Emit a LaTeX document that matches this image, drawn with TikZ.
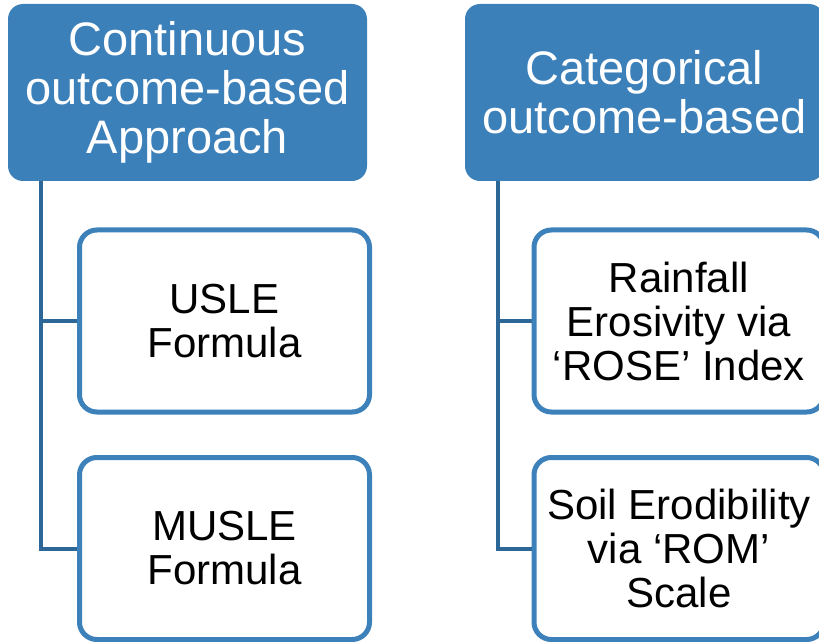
\documentclass[tikz,border=0pt]{standalone}
\usepackage{fontspec}
\setmainfont{Liberation Sans}
\definecolor{headblue}{HTML}{3C80BA}
\definecolor{edgeblue}{HTML}{3D81BB}
\definecolor{linkblue}{HTML}{2D6797}
\begin{document}
\begin{tikzpicture}[x=0.75pt,y=-0.75pt,
  header/.style={rectangle, rounded corners=11.25pt, fill=headblue, text=white,
    minimum width=269.25pt, minimum height=132.75pt, inner sep=0pt, align=center,
    font=\fontsize{35.25pt}{36.5pt}\selectfont},
  leaf/.style={rectangle, rounded corners=13pt, draw=edgeblue, line width=3.75pt,
    fill=white, minimum width=217.5pt, minimum height=136.5pt, inner sep=0pt,
    align=center, font=\fontsize{31.5pt}{33pt}\selectfont},
  link/.style={draw=linkblue, line width=3pt}]
\useasboundingbox (0,0) rectangle (819,642);
\clip (0,0) rectangle (819,642);

% column headers
\node[header] (cont) at (187.5,92.5) {Continuous\\outcome-based\\Approach};
\node[header] (cat) at (644.5,92.5) {Categorical\\outcome-based};

% connectors behind the leaves
\draw[link] ([xshift=24.75pt]cont.south west) |- (224.5,321);
\draw[link] ([xshift=24.75pt]cont.south west) |- (224.5,548.5);
\draw[link] ([xshift=24.75pt]cat.south west) |- (679,321);
\draw[link] ([xshift=24.75pt]cat.south west) |- (679,548.5);

% leaves
\node[leaf] (usle) at (224.5,321) {USLE\\Formula};
\node[leaf] (musle) at (224.5,548.5) {MUSLE\\Formula};
\node[leaf] (rose) at (679,321) {Rainfall\\Erosivity via\\‘ROSE’ Index};
\node[leaf] (rom) at (679,548.5) {Soil Erodibility\\via ‘ROM’\\Scale};
\end{tikzpicture}
\end{document}
